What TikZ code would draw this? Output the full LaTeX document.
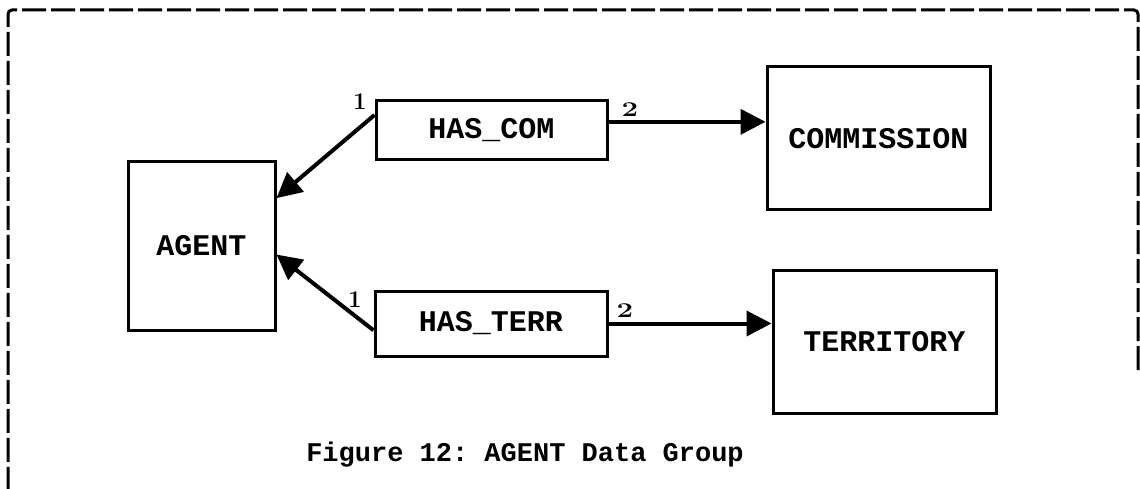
\documentclass[tikz,border=0pt]{standalone}
\usepackage{fontspec}
\setmonofont{Liberation Mono}
\usetikzlibrary{arrows.meta,calc}

\tikzset{
  entity/.style={draw, line width=3pt, inner sep=0pt, font=\ttfamily\bfseries\fontsize{30}{30}\selectfont},
  link/.style={line width=4pt, -{Triangle[length=25pt,width=25pt]}},
  card/.style={inner sep=0pt, font=\bfseries\fontsize{24}{24}\selectfont},
  cardtwo/.style={inner sep=0pt, xscale=1.4, font=\bfseries\fontsize{21}{21}\selectfont},
  frame/.style={line width=3pt, dash pattern=on 24pt off 5pt, rounded corners=4pt}
}

\begin{document}
\begin{tikzpicture}[x=1pt,y=-1pt]
  \useasboundingbox (0,0) rectangle (1140,489);

  % dashed page frame, open at the bottom
  \draw[frame] (1138,370) -- (1138,10) -- (8,10) -- (8,489);

  % entities
  \node[entity, minimum width=147pt, minimum height=168pt] (agent) at (201.5,246) {AGENT};
  \node[entity, minimum width=231pt, minimum height=59pt] (hascom) at (491.5,130.5) {HAS\_COM};
  \node[entity, minimum width=232pt, minimum height=65pt] (hasterr) at (491,323.5) {HAS\_TERR};
  \node[entity, minimum width=223pt, minimum height=143pt] (commission) at (878.5,138.5) {COMMISSION};
  \node[entity, minimum width=223pt, minimum height=143pt] (territory) at (884.5,341.5) {TERRITORY};

  % connection points
  \coordinate (comA) at ($(hascom.north west)!0.25!(hascom.south west)$);
  \coordinate (comB) at ($(hascom.north east)!0.36!(hascom.south east)$);
  \coordinate (terrA) at ($(hasterr.north west)!0.6!(hasterr.south west)$);
  \coordinate (agentA) at ($(agent.north east)!0.22!(agent.south east)$);
  \coordinate (agentB) at ($(agent.north east)!0.55!(agent.south east)$);

  % relationships
  \draw[link] (comA) -- (agentA);
  \draw[link] (terrA) -- (agentB);
  \draw[link] (comB) -- (commission.west |- comB);
  \draw[link] (hasterr.east) -- (territory.west |- hasterr.east);

  % cardinalities
  \node[card] (c1) at (360,102) {1};
  \node[cardtwo] (c2) at (630,110) {2};
  \node[card] (c3) at (355,300) {1};
  \node[cardtwo] (c4) at (625,311) {2};

  % caption
  \node[font=\ttfamily\bfseries\fontsize{27}{27}\selectfont] (caption) at (525,455) {Figure 12: AGENT Data Group};
\end{tikzpicture}
\end{document}
